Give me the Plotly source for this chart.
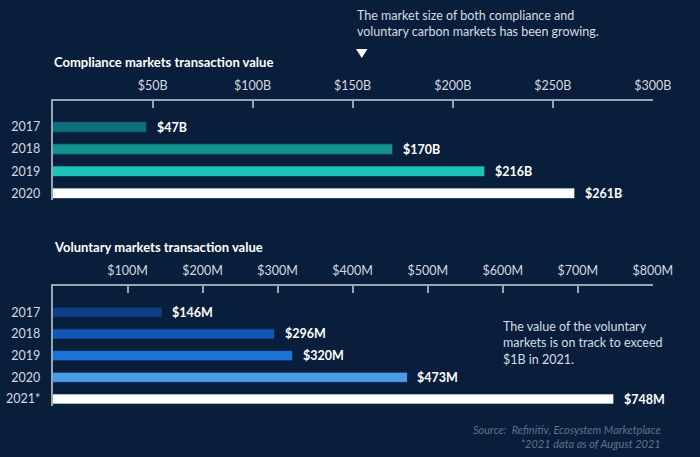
import plotly.graph_objects as go

# ---- data ----
comp_years = ["2017", "2018", "2019", "2020"]
comp_values = [47, 170, 216, 261]
comp_labels = ["$47B", "$170B", "$216B", "$261B"]
comp_colors = ["#0F6E7A", "#13908F", "#1CC3B6", "#FFFFFF"]
comp_tickvals = [50, 100, 150, 200, 250, 300]
comp_ticktext = ["$50B", "$100B", "$150B", "$200B", "$250B", "$300B"]

vol_years = ["2017", "2018", "2019", "2020", "2021*"]
vol_values = [146, 296, 320, 473, 748]
vol_labels = ["$146M", "$296M", "$320M", "$473M", "$748M"]
vol_colors = ["#0E3F86", "#1456B5", "#1A74D7", "#4A9CE6", "#FFFFFF"]
vol_tickvals = [100, 200, 300, 400, 500, 600, 700, 800]
vol_ticktext = ["$100M", "$200M", "$300M", "$400M", "$500M", "$600M", "$700M", "$800M"]

W, H = 700, 457
BG = "#081E3B"
AXIS = "#9BA4B2"
TICKFONT = dict(family="Lato", size=12.5, color="#D6DAE0")
FONT = "Lato"


def py(px):
    return 1 - px / H


def pxx(px):
    return px / W


fig = go.Figure()

fig.add_trace(go.Bar(
    x=comp_values, y=comp_years, orientation="h",
    marker=dict(color=comp_colors, line=dict(width=0.8, color="#06304A")),
    width=0.48, xaxis="x", yaxis="y", showlegend=False, hoverinfo="skip",
))
fig.add_trace(go.Bar(
    x=vol_values, y=vol_years, orientation="h",
    marker=dict(color=vol_colors, line=dict(width=0.8, color="#06254A")),
    width=0.47, xaxis="x2", yaxis="y2", showlegend=False, hoverinfo="skip",
))

annotations = []
for i, (v, lab) in enumerate(zip(comp_values, comp_labels)):
    annotations.append(dict(x=v, y=i, xref="x", yref="y", text="<b>" + lab + "</b>",
                            showarrow=False, xanchor="left", xshift=8,
                            font=dict(family=FONT, size=12.5, color="#FFFFFF")))
for i, (v, lab) in enumerate(zip(vol_values, vol_labels)):
    annotations.append(dict(x=v, y=i, xref="x2", yref="y2", text="<b>" + lab + "</b>",
                            showarrow=False, xanchor="left", xshift=8,
                            font=dict(family=FONT, size=12.5, color="#FFFFFF")))

annotations += [
    dict(x=pxx(51.5), y=py(62.5), xref="paper", yref="paper", xanchor="left", yanchor="middle",
         text="<b>Compliance markets transaction value</b>", showarrow=False,
         font=dict(family=FONT, size=13, color="#FFFFFF")),
    dict(x=pxx(51.5), y=py(247.3), xref="paper", yref="paper", xanchor="left", yanchor="middle",
         text="<b>Voluntary markets transaction value</b>", showarrow=False,
         font=dict(family=FONT, size=13, color="#FFFFFF")),
    dict(x=pxx(355), y=py(23), xref="paper", yref="paper", xanchor="left", yanchor="middle",
         align="left",
         text="The market size of both compliance and<br>voluntary carbon markets has been growing.",
         showarrow=False, font=dict(family=FONT, size=12.5, color="#D8DCE2")),
    dict(x=pxx(501), y=py(343), xref="paper", yref="paper", xanchor="left", yanchor="middle",
         align="left",
         text="The value of the voluntary<br>markets is on track to exceed<br>$1B in 2021.",
         showarrow=False, font=dict(family=FONT, size=12.5, color="#D8DCE2")),
    dict(x=pxx(663), y=py(436.5), xref="paper", yref="paper", xanchor="right", yanchor="middle",
         align="right",
         text="<i>Source:  Refinitiv, Ecosystem Marketplace<br>*2021 data as of August 2021</i>",
         showarrow=False, font=dict(family=FONT, size=11, color="#62728A")),
]

shapes = [
    dict(type="path", xref="paper", yref="paper",
         path="M {} {} L {} {} L {} {} Z".format(pxx(356), py(49), pxx(367.5), py(49),
                                                 pxx(361.75), py(58)),
         fillcolor="#FFFFFF", line=dict(width=0)),
]

x0, x1 = pxx(52.5), pxx(652.8)

fig.update_layout(
    width=W, height=H,
    margin=dict(l=0, r=0, t=0, b=0),
    paper_bgcolor=BG, plot_bgcolor=BG,
    bargap=0.5,
    annotations=annotations,
    shapes=shapes,
    xaxis=dict(domain=[x0, x1], range=[0, 300], side="top", anchor="y",
               tickvals=comp_tickvals, ticktext=comp_ticktext,
               ticks="inside", ticklen=8, tickwidth=1.5, tickcolor=AXIS,
               showline=True, linecolor=AXIS, linewidth=1.5,
               showgrid=False, zeroline=False, tickfont=TICKFONT,
               ticklabelstandoff=4, fixedrange=True, automargin=False),
    yaxis=dict(domain=[py(199.5), py(100.5)], range=[3.28, -1.2], anchor="x",
               type="category", categoryorder="array", categoryarray=comp_years,
               showline=True, linecolor=AXIS, linewidth=1.5, ticks="",
               showgrid=False, zeroline=False, tickfont=TICKFONT,
               ticklabelstandoff=8, fixedrange=True, automargin=False),
    xaxis2=dict(domain=[x0, x1], range=[0, 800], side="top", anchor="y2",
                tickvals=vol_tickvals, ticktext=vol_ticktext,
                ticks="inside", ticklen=8, tickwidth=1.5, tickcolor=AXIS,
                showline=True, linecolor=AXIS, linewidth=1.5,
                showgrid=False, zeroline=False, tickfont=TICKFONT,
                ticklabelstandoff=4, fixedrange=True, automargin=False),
    yaxis2=dict(domain=[py(405.5), py(285.7)], range=[4.3, -1.226], anchor="x2",
                type="category", categoryorder="array", categoryarray=vol_years,
                showline=True, linecolor=AXIS, linewidth=1.5, ticks="",
                showgrid=False, zeroline=False, tickfont=TICKFONT,
                ticklabelstandoff=8, fixedrange=True, automargin=False),
)

fig.write_html(
    "out.html",
    config={"displayModeBar": False},
    post_script="document.body.style.margin='0';document.body.style.overflow='hidden';"
                "document.body.style.background='" + BG + "';",
)
